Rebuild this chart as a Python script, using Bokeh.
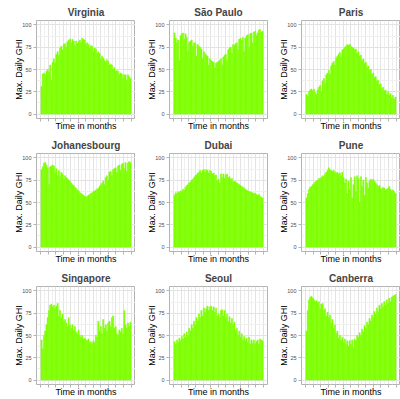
from bokeh.plotting import figure
from bokeh.layouts import gridplot
from bokeh.models import FixedTicker, Range1d
from bokeh.embed import file_html
from bokeh.resources import INLINE

# Max. daily GHI, one value per 5-day slot (73 slots over the year)
virginia = [31,45,46,44,48,50,47,55,38,58, 62,57,67,70,66,74,76,72,78,79,
            75,81,83,84,80,84,82,77,82,79, 81,83,80,85,84,83,78,80,78,74,
            77,76,70,74,73,68,70,68,62,65, 63,60,58,61,59,55,56,55,50,52,
            48,49,48,44,46,45,40,44,44,38, 44,42,40]
sao_paulo = [91,85,80,83,60,88,90,91,84,90, 86,70,80,82,83,76,80,79,65,78,
             76,75,73,62,70,68,66,65,55,62, 60,59,58,52,57,58,59,60,62,55,
             64,66,67,60,72,74,75,68,78,77, 79,80,72,84,85,83,86,70,85,88,
             89,75,90,91,80,92,93,88,91,94, 95,92,93]
paris = [22,20,25,27,28,26,28,24,22,27, 30,32,25,37,40,35,44,46,49,45,
         54,57,59,55,63,65,67,69,64,72, 73,75,76,78,77,78,76,75,74,72,
         73,68,70,65,66,60,62,57,58,52, 54,49,50,45,46,41,42,37,38,33,
         34,29,30,26,27,22,25,21,23,18, 21,17,19]
johanesbourg = [87,90,94,95,92,89,70,90,91,92, 91,84,88,80,86,79,84,82,76,80,
                78,77,75,74,72,70,69,67,66,64, 63,61,60,59,58,57,56,57,58,59,
                60,61,62,63,64,65,66,68,70,72, 74,70,78,80,75,84,85,80,87,88,
                89,84,91,92,86,93,94,88,95,85, 94,96,95]
dubai = [58,61,60,62,61,63,62,65,64,67, 69,70,72,73,75,76,78,80,81,83,
         84,86,83,86,87,84,87,86,83,86, 85,82,83,80,81,74,76,72,82,78,
         82,77,81,82,78,79,76,77,73,74, 73,72,71,70,69,68,67,66,65,64,
         63,62,62,61,61,60,60,59,58,59, 57,56,55]
pune = [55,60,65,67,68,70,71,73,74,75, 77,76,78,80,79,82,84,86,89,87,
        86,85,86,84,83,84,82,83,80,84, 78,72,76,60,74,65,78,55,70,79,
        62,80,77,50,79,68,75,58,78,72, 66,74,76,75,76,74,72,70,68,69,
        66,65,67,66,64,65,66,68,65,63, 64,62,60]
singapore = [45,35,50,55,62,70,78,84,85,82, 84,80,83,86,72,78,70,74,66,68,
             64,60,70,62,58,62,56,60,54,52, 56,50,48,50,46,47,45,44,46,42,
             43,41,44,42,50,48,66,55,60,52, 68,58,62,55,64,66,60,70,72,58,
             60,52,50,56,54,58,52,78,62,58, 64,60,65]
seoul = [43,40,45,42,47,44,49,46,52,48, 54,50,58,55,62,58,66,62,70,66,
         74,70,78,72,81,76,80,83,78,82, 83,78,82,76,81,72,74,70,78,79,
         72,78,70,74,66,71,64,69,62,65, 56,58,50,55,48,52,45,49,44,47,
         42,48,40,45,41,45,40,43,45,40, 46,45,44]
canberra = [55,78,90,93,94,92,90,88,89,87, 88,80,85,86,78,80,72,76,70,73,
            64,68,58,62,52,55,47,50,45,48, 42,46,40,44,38,44,40,45,36,46,
            44,50,48,53,50,57,54,61,58,65, 62,69,66,73,70,77,74,81,76,84,
            80,86,82,88,84,90,86,92,88,93, 94,95,96]

cities = ["Virginia", "São Paulo", "Paris",
          "Johanesbourg", "Dubai", "Pune",
          "Singapore", "Seoul", "Canberra"]
series = [virginia, sao_paulo, paris, johanesbourg, dubai, pune,
          singapore, seoul, canberra]

slot_days = 5
month_starts = [0, 31, 59, 90, 120, 151, 181, 212, 243, 273, 304, 334, 365]
mid_months = [15, 45, 74, 105, 135, 166, 196, 227, 258, 288, 319, 349]
y_major = [0, 25, 50, 75, 100]
y_minor = [12.5, 37.5, 62.5, 87.5]

BAR = "#7FFF00"
GRID = "#E3E3E3"
MINOR = "#F0F0F0"
BORDER = "#B3B3B3"
FONT = "Liberation Sans"

col_w = [135, 133, 132]
left_b = [36, 34, 33]
right_b = [0, 1, 0]
row_h = [133, 133, 133]

figs = []
for idx, (name, vals) in enumerate(zip(cities, series)):
    r, c = divmod(idx, 3)
    p = figure(width=col_w[c], height=row_h[r],
               x_range=Range1d(-18, 383), y_range=Range1d(-5, 105),
               output_backend="svg", toolbar_location=None, tools="",
               min_border_left=left_b[c], min_border_right=right_b[c],
               min_border_top=20, min_border_bottom=0)
    centers = [slot_days * i + slot_days / 2 for i in range(len(vals))]
    p.vbar(x=centers, top=vals, bottom=0, width=slot_days,
           fill_color=BAR, line_color=BAR, line_width=0.5)

    p.title.text = name
    p.title.align = "center"
    p.title.text_font = FONT
    p.title.text_font_size = "10px"
    p.title.text_font_style = "bold"
    p.title.standoff = 5
    p.title.offset = 0

    p.background_fill_color = "white"
    p.border_fill_color = "white"
    p.outline_line_color = BORDER
    p.outline_line_width = 1

    xa = p.xaxis[0]
    xa.ticker = FixedTicker(ticks=month_starts, minor_ticks=mid_months)
    xa.major_label_overrides = {t: "" for t in month_starts}
    xa.major_label_text_font_size = "0px"
    xa.major_label_standoff = 0
    xa.axis_label = "Time in months"
    xa.axis_label_text_font = FONT
    xa.axis_label_text_font_size = "9px"
    xa.axis_label_text_font_style = "normal"
    xa.axis_label_text_color = "black"
    xa.axis_label_standoff = -2
    xa.axis_line_color = None
    xa.major_tick_line_color = BORDER
    xa.major_tick_out = 3
    xa.major_tick_in = 0
    xa.minor_tick_line_color = None

    ya = p.yaxis[0]
    ya.ticker = FixedTicker(ticks=y_major, minor_ticks=y_minor)
    ya.major_label_text_font = FONT
    ya.major_label_text_font_size = "5.5px"
    ya.major_label_text_color = "#4D4D4D"
    ya.major_label_standoff = 1
    ya.axis_label = "Max. Daily GHI"
    ya.axis_label_text_font = FONT
    ya.axis_label_text_font_size = "9px"
    ya.axis_label_text_font_style = "normal"
    ya.axis_label_text_color = "black"
    ya.axis_label_standoff = -5
    ya.axis_line_color = None
    ya.major_tick_line_color = BORDER
    ya.major_tick_out = 3
    ya.major_tick_in = 0
    ya.minor_tick_line_color = None

    for g in (p.xgrid[0], p.ygrid[0]):
        g.grid_line_color = GRID
        g.grid_line_width = 1
        g.minor_grid_line_color = MINOR
        g.minor_grid_line_width = 1
    p.xgrid[0].ticker = xa.ticker
    p.ygrid[0].ticker = ya.ticker
    figs.append(p)

grid = gridplot([figs[0:3], figs[3:6], figs[6:9]], toolbar_location=None)
open("out.html", "w").write(file_html(grid, INLINE))
